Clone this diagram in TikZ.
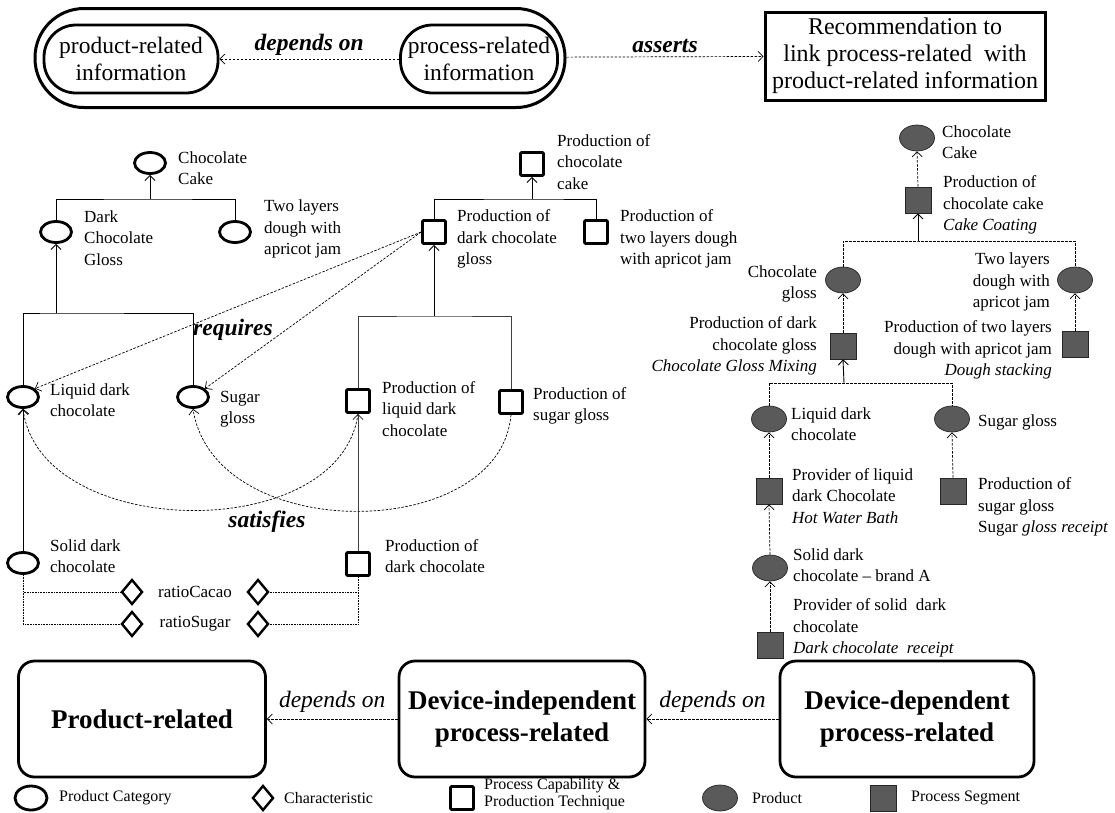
\documentclass[tikz,border=0pt]{standalone}
\usepackage{fontspec}
\setmainfont{Liberation Serif}
\usetikzlibrary{positioning,arrows.meta,shapes.geometric,calc}
\definecolor{segfill}{HTML}{5A5A5A}
\tikzset{
  pcat/.style={draw,ellipse,line width=2.8pt,minimum width=31pt,minimum height=21pt,inner sep=0pt},
  pcap/.style={draw,rectangle,line width=2.8pt,minimum size=23pt,inner sep=0pt,rounded corners=1pt},
  chr/.style={draw,diamond,line width=2.4pt,minimum width=21pt,minimum height=25pt,inner sep=0pt},
  prd/.style={draw=black!85,fill=segfill,ellipse,line width=.7pt,minimum width=35pt,minimum height=26pt,inner sep=0pt},
  seg/.style={draw=black!85,fill=segfill,rectangle,line width=.7pt,minimum size=26pt,inner sep=0pt},
  lbl/.style={font=\fontsize{17}{21.5}\selectfont,align=left,anchor=west,inner sep=0pt},
  rlbl/.style={lbl,align=right,anchor=east},
  lgd/.style={font=\fontsize{16}{17.5}\selectfont,align=left,anchor=west,inner sep=0pt},
  relname/.style={font=\fontsize{23.5}{27}\selectfont\bfseries\itshape,inner sep=0pt},
  bigtxt/.style={font=\fontsize{23.5}{27}\selectfont,align=center,inner sep=0pt},
  layer/.style={draw,line width=2.8pt,rounded corners=16pt,minimum width=246pt,minimum height=116pt,
    font=\fontsize{27}{32}\selectfont\bfseries,align=center},
  dline/.style={line width=.7pt,dash pattern=on 2.5pt off 1.5pt},
  dotline/.style={line width=.7pt,dash pattern=on .8pt off .8pt},
  arr/.style={line width=.9pt,->},
}
\begin{document}
\begin{tikzpicture}[x=1pt,y=-1pt,>={Straight Barb[length=5pt,width=10pt]}]
\useasboundingbox (0,0) rectangle (1115,812);

\node[bigtxt,draw,line width=2.8pt,rounded corners=32pt,minimum width=174pt,minimum height=68pt] (prodinfo) at (131,59) {product-related\\information};
\node[bigtxt,draw,line width=2.8pt,rounded corners=32pt,minimum width=157pt,minimum height=68pt] (procinfo) at (479,59) {process-related\\information};
\node[draw,line width=3pt,rounded corners=49pt,minimum width=530pt,minimum height=99pt] (info) at (300,58) {};
\node[font=\fontsize{24}{27}\selectfont,align=center,inner sep=0pt,draw,line width=3pt,minimum width=280pt,minimum height=88pt] (rec) at (905,56) {Recommendation to\\link process-related\ \ with\\product-related information};
\draw[dline,->] (procinfo) -- node[relname,above=3pt]{depends on} (prodinfo);
\draw[dline,->] (info) -- node[relname,above=4pt]{asserts} (rec);

\node[pcat] (cake) at (150,163) {};
\node[lbl] (cakel) at (178,168) {Chocolate\\Cake};
\node[pcat] (gloss) at (56,232) {};
\node[lbl] (glossl) at (84,238) {Dark\\Chocolate\\Gloss};
\node[pcat] (dough) at (235,232) {};
\node[lbl] (doughl) at (264,229) {Two layers\\dough with\\apricot jam};
\node[pcat] (liquid) at (23,397) {};
\node[lbl] (liquidl) at (50,400) {Liquid dark\\chocolate};
\node[pcat] (sugar) at (193,397) {};
\node[lbl] (sugarl) at (220,409) {Sugar\\gloss};
\node[pcat] (solid) at (23,563) {};
\node[lbl] (solidl) at (50,556) {Solid dark\\chocolate};

\coordinate (ubar) at (150,199);
\coordinate (lbar) at (56,313);
\draw[line width=.9pt] (gloss.north) |- (ubar) -| (dough.north);
\draw[arr] (ubar) -- (cake.south);
\draw[line width=.9pt] (liquid.north) |- (lbar) -| (sugar.north);
\draw[arr] (lbar) -- (gloss.south);
\draw[arr] (solid.north) -- (liquid.south);

\node[pcap] (pcake) at (532,164) {};
\node[lbl] (pcakel) at (557,162) {Production of\\chocolate\\cake};
\node[pcap] (pgloss) at (434,232) {};
\node[lbl] (pglossl) at (457,239) {Production of\\dark chocolate\\gloss};
\node[pcap] (pdough) at (596,232) {};
\node[lbl] (pdoughl) at (620,239) {Production of\\two layers dough\\with apricot jam};
\node[pcap] (pliquid) at (358,401) {};
\node[lbl] (pliquidl) at (382,409) {Production of\\liquid dark\\chocolate};
\node[pcap] (psugar) at (511,402) {};
\node[lbl] (psugarl) at (533,406) {Production of\\sugar gloss};
\node[pcap] (pdark) at (358,564) {};
\node[lbl] (pdarkl) at (385,556) {Production of\\dark chocolate};

\coordinate (mbar1) at (532,199);
\coordinate (mbar2) at (434,316);
\draw[line width=.9pt] (pgloss.north) |- (mbar1) -| (pdough.north);
\draw[arr] (mbar1) -- (pcake.south);
\draw[line width=.9pt,black!75] (pliquid.north) |- (mbar2) -| (psugar.north);
\draw[arr] (mbar2) -- (pgloss.south);
\draw[arr,black!75] (pdark.north) -- (pliquid.south);

\draw[dline,->] (pgloss.west) -- (liquid.north east);
\draw[dline,->] (pgloss.west) -- (sugar.north east);
\node[relname] (req) at (233,330) {requires};
\draw[dline,->] (pliquid.south) .. controls +(-18,132) and +(17,132) .. (liquid.south);
\draw[dline,->] (psugar.south) .. controls +(-11,128) and +(22,137) .. (sugar.south);
\node[relname] (sat) at (267,522) {satisfies};

\node[chr] (cacaoL) at (132,592) {};
\node[chr] (cacaoR) at (258,592) {};
\node[lbl,anchor=center] (cacaol) at (195,592) {ratioCacao};
\node[chr] (sugarL) at (132,624) {};
\node[chr] (sugarR) at (258,624) {};
\node[lbl,anchor=center] (sugarl2) at (195,624) {ratioSugar};
\draw[dotline] (solid.south) |- (cacaoL.west);
\draw[dotline] (solid.south) |- (sugarL.west);
\draw[dotline] (cacaoR.east) -| (pdark.south);
\draw[dotline] (sugarR.east) -| (pdark.south);

\node[prd] (rcake) at (917,138) {};
\node[lbl] (rcakel) at (942,142) {Chocolate\\Cake};
\node[seg] (rpcake) at (918,200) {};
\node[lbl] (rpcakel) at (943,205) {Production of\\chocolate cake\\\textit{Cake Coating}};
\node[prd] (rgloss) at (843,280) {};
\node[rlbl] (rglossl) at (817,284) {Chocolate\\gloss};
\node[prd] (rdough) at (1075,280) {};
\node[rlbl] (rdoughl) at (1050,282) {Two layers\\dough with\\apricot jam};
\node[seg] (rpgloss) at (843,346) {};
\node[rlbl] (rpglossl) at (817,346) {Production of dark\\chocolate gloss\\\textit{Chocolate Gloss Mixing}};
\node[seg] (rpdough) at (1075,344) {};
\node[rlbl] (rpdoughl) at (1052,350) {Production of two layers\\dough with apricot jam\\\textit{Dough stacking}};
\node[prd] (rliquid) at (769,419) {};
\node[lbl] (rliquidl) at (791,424) {Liquid dark\\chocolate};
\node[prd] (rsugar) at (952,419) {};
\node[lbl] (rsugarl) at (978,422) {Sugar gloss};
\node[seg] (rpliquid) at (769,491) {};
\node[lbl] (rpliquidl) at (792,496) {Provider of liquid\\dark Chocolate\\\textit{Hot Water Bath}};
\node[seg] (rpsugar) at (953,491) {};
\node[lbl] (rpsugarl) at (978,507) {Production of\\sugar gloss\\Sugar \textit{gloss receipt}};
\node[prd] (rsolid) at (770,568) {};
\node[lbl] (rsolidl) at (793,565) {Solid dark\\chocolate -- brand A};
\node[seg] (rpsolid) at (770,645) {};
\node[lbl] (rpsolidl) at (793,628) {Provider of solid\ \ dark\\chocolate\\\textit{Dark chocolate\ \ receipt}};

\coordinate (rbar1) at (918,241);
\coordinate (rbar2) at (844,383);
\draw[dline] (rgloss.north) |- (rbar1) -| (rdough.north);
\draw[arr] (rbar1) -- (rpcake.south);
\draw[dline,->] (rpcake.north) -- (rcake.south);
\draw[dline] (rliquid.north) |- (rbar2) -| (rsugar.north);
\draw[arr] (rbar2) -- (rpgloss.south);
\draw[dline,->] (rpgloss.north) -- (rgloss.south);
\draw[dline,->] (rpdough.north) -- (rdough.south);
\draw[dline,->] (rpliquid.north) -- (rliquid.south);
\draw[dline,->] (rpsugar.north) -- (rsugar.south);
\draw[dline,->] (rsolid.north) -- (rpliquid.south);
\draw[dline,->] (rpsolid.north) -- (rsolid.south);

\node[layer,minimum width=247pt] (bprod) at (142,719) {Product-related};
\node[layer] (bindep) at (522,719) {Device-independent\\process-related};
\node[layer,minimum width=254pt] (bdep) at (907,719) {Device-dependent\\process-related};
\draw[dline,->] (bindep) -- node[above=6pt,font=\fontsize{23.5}{27}\selectfont\itshape,inner sep=0pt]{depends on} (bprod);
\draw[dline,->] (bdep) -- node[above=6pt,font=\fontsize{23.5}{27}\selectfont\itshape,inner sep=0pt]{depends on} (bindep);

\node[pcat,minimum width=32pt,minimum height=24pt] (lgcat) at (31,798) {};
\node[lgd] (lgcatl) at (59,798) {Product Category};
\node[chr] (lgchr) at (263,798) {};
\node[lgd] (lgchrl) at (284,798) {Characteristic};
\node[pcap] (lgcap) at (462,798) {};
\node[lgd] (lgcapl) at (484,794) {Process Capability \&\\Production Technique};
\node[prd] (lgprod) at (720,798) {};
\node[lgd] (lgprodl) at (752,798) {Product};
\node[seg] (lgseg) at (883,798) {};
\node[lgd] (lgsegl) at (911,798) {Process Segment};
\end{tikzpicture}
\end{document}
